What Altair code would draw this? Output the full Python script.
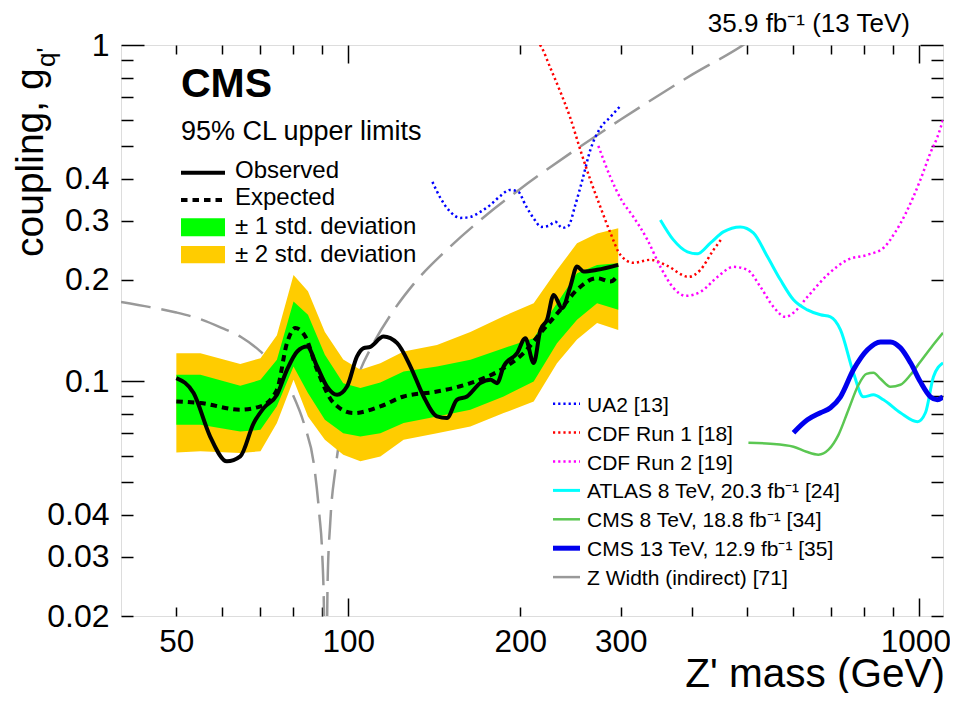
import altair as alt
import pandas as pd

# ---------------- data ----------------
band_mass = [50.0, 55.1, 64.7, 70.2, 75.0, 80.2, 85.0, 91.0, 98.0, 105.0, 113.8,
             125.0, 143.0, 163.6, 187.1, 211.2, 232.0, 251.5, 272.7, 297.0]
band2_hi = [0.121, 0.121, 0.1125, 0.117, 0.137, 0.207, 0.185, 0.140, 0.116, 0.108, 0.113,
            0.1225, 0.128, 0.140, 0.156, 0.1705, 0.214, 0.257, 0.275, 0.285]
band2_lo = [0.0613, 0.0618, 0.0611, 0.0618, 0.075, 0.101, 0.0785, 0.0669, 0.0604, 0.0577, 0.0597,
            0.0669, 0.0700, 0.0733, 0.0803, 0.087, 0.113, 0.133, 0.149, 0.142]
band1_hi = [0.1044, 0.1044, 0.0968, 0.1009, 0.1157, 0.1724, 0.1575, 0.1198, 0.0986, 0.0953, 0.099,
            0.1068, 0.1105, 0.1157, 0.1253, 0.1342, 0.1705, 0.2095, 0.2217, 0.2243]
band1_lo = [0.0742, 0.0742, 0.0708, 0.0716, 0.0841, 0.1105, 0.0921, 0.0767, 0.0700, 0.0684, 0.0700,
            0.0750, 0.0785, 0.0822, 0.0900, 0.0997, 0.1297, 0.1522, 0.1705, 0.1629]

exp_mass = [50.0, 55.1, 64.7, 70.2, 75.0, 78.1, 80.8, 84.1, 88.2, 94.3, 102.2, 113.8, 125.0,
            143.0, 163.6, 187.1, 202.8, 217.0, 235.1, 251.5, 272.7, 287.7, 297.0]
exp_val = [0.087, 0.086, 0.0822, 0.0841, 0.0942, 0.1297, 0.1438, 0.1357, 0.108, 0.086, 0.0803,
           0.0841, 0.090, 0.0931, 0.0986, 0.1093, 0.1211, 0.1389, 0.1629, 0.1868, 0.2024, 0.1977, 0.2071]

obs_mass = [50.0, 53.6, 57.3, 61.3, 64.7, 68.3, 71.1, 75.0, 78.1, 81.4, 84.7, 88.2, 91.8, 95.6,
            99.5, 103.6, 106.4, 109.3, 115.3, 121.8, 128.5, 135.5, 143.0, 148.9, 155.0, 161.4,
            170.3, 177.4, 182.2, 187.1, 197.5, 204.2, 211.2, 217.0, 222.9, 228.9, 236.8, 244.8,
            251.5, 258.3, 272.7, 297.0]
obs_val = [0.1021, 0.0921, 0.0684, 0.0577, 0.0597, 0.075, 0.0831, 0.091, 0.108, 0.1225, 0.1267,
           0.1105, 0.0963, 0.091, 0.0963, 0.1184, 0.1253, 0.1265, 0.1357, 0.1297, 0.1105, 0.090,
           0.0785, 0.0776, 0.088, 0.090, 0.0986, 0.1009, 0.0986, 0.1105, 0.1211, 0.1342, 0.1131,
           0.1421, 0.1522, 0.1805, 0.1648, 0.1911, 0.2192, 0.2118, 0.2143, 0.2217]

ua2_mass = [140.4, 145.0, 150.9, 157.2, 163.6, 170.3, 177.4, 184.6, 192.2, 198.6, 204.2, 210.9,
            217.9, 224.1, 230.5, 237.1, 242.9, 249.8, 257.0, 265.4, 276.3, 287.7, 300.7]
ua2_val = [0.3915, 0.3508, 0.3187, 0.3059, 0.3080, 0.3187, 0.3344, 0.3556, 0.3706, 0.3655, 0.3344,
           0.3059, 0.2876, 0.2896, 0.2977, 0.2856, 0.2896, 0.3344, 0.3969, 0.4874, 0.5665, 0.6107, 0.6632]

cdf1_mass = [214.0, 217.9, 225.9, 235.2, 244.8, 254.9, 265.4, 276.3, 287.7, 299.5, 315.7, 338.1,
             362.0, 394.1, 413.6, 436.0, 452.0]
cdf1_val = [1.03, 0.986, 0.854, 0.725, 0.6067, 0.4874, 0.3969, 0.3299, 0.2761, 0.2375, 0.2248,
            0.2295, 0.2202, 0.2042, 0.2142, 0.2457, 0.2668]

cdf2_mass = [274.1, 287.7, 300.8, 315.7, 334.1, 352.0, 371.0, 389.4, 413.6, 443.2, 472.5, 500.0,
             526.9, 555.2, 582.8, 602.0, 636.8, 690.4, 748.4, 811.2, 865.2, 908.0, 945.6, 1004.0,
             1045.6, 1075.6, 1100.0]
cdf2_val = [0.5009, 0.4050, 0.3459, 0.3080, 0.2631, 0.2187, 0.1894, 0.1793, 0.1842, 0.2042, 0.2187,
            0.2142, 0.1907, 0.1663, 0.1553, 0.1597, 0.1780, 0.2071, 0.2295, 0.2375, 0.2490, 0.2780,
            0.3144, 0.3969, 0.4775, 0.5327, 0.5984]

atlas_mass = [352.0, 371.0, 392.5, 408.6, 430.8, 453.7, 486.0, 512.1, 542.1, 571.1, 602.0, 636.8,
              671.2, 698.8, 727.6, 766.5, 798.0, 831.0, 865.2, 926.5, 992.4, 1024.8, 1058.5, 1100.0]
atlas_val = [0.3017, 0.2631, 0.2424, 0.2391, 0.2577, 0.2780, 0.2876, 0.2761, 0.2343, 0.2001, 0.1745,
             0.1629, 0.1575, 0.1553, 0.1421, 0.1059, 0.0898, 0.0910, 0.0880, 0.0805, 0.0757, 0.0805,
             0.1030, 0.1133]

cms8_mass = [502.0, 548.5, 602.0, 634.4, 665.7, 693.3, 721.7, 751.4, 782.4, 807.9, 831.0, 854.9,
             890.0, 926.5, 965.0, 1004.0, 1054.5, 1100.0]
cms8_val = [0.0655, 0.0651, 0.0638, 0.0616, 0.0604, 0.0625, 0.0692, 0.0822, 0.0975, 0.1051, 0.1059,
            0.1016, 0.0962, 0.0975, 0.1044, 0.1141, 0.1274, 0.1392]

cms13_mass = [602.0, 636.8, 671.2, 698.8, 727.6, 766.5, 811.2, 854.9, 890.0, 926.5, 965.0, 1004.0,
              1045.6, 1075.6, 1100.0]
cms13_val = [0.0702, 0.0767, 0.0805, 0.0833, 0.0898, 0.1080, 0.1239, 0.1308, 0.1308, 0.1256, 0.1133,
             0.0995, 0.0898, 0.0880, 0.0898]

zw_mass = [40, 45, 50, 55, 60, 65, 70, 75, 80, 84, 87, 89, 90, 90.7, 91.0,
           91.5, 92, 93, 95, 100, 105, 110, 120, 130, 150, 175, 200, 250, 300, 400, 500, 520]
zw_val = [0.172, 0.166, 0.160, 0.153, 0.144, 0.135, 0.123, 0.109, 0.091, 0.073, 0.057, 0.040, 0.031,
          0.020, 0.012, 0.012, 0.025, 0.038, 0.055, 0.085, 0.108, 0.127, 0.162, 0.194, 0.249, 0.313,
          0.373, 0.488, 0.60, 0.816, 1.02, 1.07]

x_minor = [50, 60, 70, 80, 90, 200, 300, 400, 500, 600, 700, 800, 900]
x_major = [100, 1000]
x_labels = [50, 100, 200, 300, 1000]
y_minor = [0.02, 0.03, 0.04, 0.05, 0.06, 0.07, 0.08, 0.09, 0.2, 0.3, 0.4, 0.5, 0.6, 0.7, 0.8, 0.9]
y_major = [0.1, 1]
y_labels = [0.02, 0.03, 0.04, 0.1, 0.2, 0.3, 0.4, 1]

# ---------------- layout ----------------
W, H = 822, 571
FONT = "Liberation Sans"

xs = alt.Scale(type="log", domain=[40, 1100], nice=False)
ys = alt.Scale(type="log", domain=[0.02, 1], nice=False)


def tick_axis(orient, offset, values, size):
    return alt.Axis(orient=orient, offset=offset, values=values, tickSize=size, labels=False,
                    domain=False, grid=False, title=None, tickColor="black", tickWidth=1.5)


ax_x_lab = alt.Axis(orient="bottom", values=x_labels, format="~g", ticks=False, domain=False,
                    grid=False, title=None, labelFont=FONT, labelFontSize=31.5, labelColor="black",
                    labelPadding=10, labelFlush=False, labelOverlap=False,
                    labelOffset={"condition": {"test": "datum.value >= 1000", "value": -4},
                                 "value": 0})
ax_y_lab = alt.Axis(orient="left", values=y_labels, format="~g", ticks=False, domain=False,
                    grid=False, title=None, labelFont=FONT, labelFontSize=32, labelColor="black",
                    labelPadding=12, labelOverlap=False, labelBaseline="middle")


def series(mass, val):
    return pd.DataFrame({"m": mass, "g": val})


def line(df, color, width, dash=None, xaxis=None, yaxis=None):
    kw = dict(color=color, strokeWidth=width, clip=True, interpolate="monotone")
    if dash:
        kw["strokeDash"] = dash
    return alt.Chart(df).mark_line(**kw).encode(
        x=alt.X("m:Q", scale=xs, axis=xaxis),
        y=alt.Y("g:Q", scale=ys, axis=yaxis),
    )


band_df = pd.DataFrame({"m": band_mass, "lo2": band2_lo, "hi2": band2_hi,
                        "lo1": band1_lo, "hi1": band1_hi})

zw = line(series(zw_mass, zw_val), "#999999", 2.5, [30, 11], ax_x_lab, ax_y_lab)

band2 = alt.Chart(band_df).mark_area(color="#FFCC00", opacity=1, interpolate="linear").encode(
    x=alt.X("m:Q", scale=xs, axis=tick_axis("top", -H, x_minor, 9)),
    y=alt.Y("lo2:Q", scale=ys, axis=tick_axis("right", -W, y_minor, 12)),
    y2="hi2:Q",
)
band1 = alt.Chart(band_df).mark_area(color="#00FF00", opacity=1, interpolate="linear").encode(
    x=alt.X("m:Q", scale=xs, axis=tick_axis("top", -H, x_major, 18)),
    y=alt.Y("lo1:Q", scale=ys, axis=tick_axis("right", -W, y_major, 23)),
    y2="hi1:Q",
)

ua2 = line(series(ua2_mass, ua2_val), "#0000FF", 2.5, [2.2, 3],
           tick_axis("bottom", -H, x_minor, 9), tick_axis("left", -W, y_minor, 12))
cdf1 = line(series(cdf1_mass, cdf1_val), "#FF0000", 2.5, [2.2, 3],
            tick_axis("bottom", -H, x_major, 18), tick_axis("left", -W, y_major, 23))
cdf2 = line(series(cdf2_mass, cdf2_val), "#FF00FF", 2.5, [2.2, 3])
atlas = line(series(atlas_mass, atlas_val), "#00FFFF", 3)
cms8 = line(series(cms8_mass, cms8_val), "#5BC752", 2.5)
cms13 = line(series(cms13_mass, cms13_val), "#0000EE", 5)
expd = line(series(exp_mass, exp_val), "black", 4, [6.5, 5])
obs = line(series(obs_mass, obs_val), "black", 4)

one = pd.DataFrame({"k": [0]})
OX, OY = 121, 45  # page position of plot origin


def txt(s, px, py, size, weight="normal", align="left", angle=0):
    kw = dict(text=s, font=FONT, fontSize=size, fontWeight=weight, align=align,
              baseline="alphabetic", color="black")
    if angle:
        kw["angle"] = angle
    return alt.Chart(one).mark_text(**kw).encode(x=alt.value(px - OX), y=alt.value(py - OY))


def hline(x1, x2, py, color, width, dash=None):
    kw = dict(color=color, strokeWidth=width)
    if dash:
        kw["strokeDash"] = dash
    return alt.Chart(one).mark_rule(**kw).encode(
        x=alt.value(x1 - OX), x2=alt.value(x2 - OX), y=alt.value(py - OY))


def box(x1, x2, y1, y2, color):
    return alt.Chart(one).mark_rect(color=color).encode(
        x=alt.value(x1 - OX), x2=alt.value(x2 - OX), y=alt.value(y1 - OY), y2=alt.value(y2 - OY))


annots = [
    txt("CMS", 181, 96.7, 41, "bold"),
    txt("95% CL upper limits", 181, 140, 27),
    hline(181, 225, 172.7, "black", 4),
    txt("Observed", 235, 178.3, 24),
    hline(181, 225, 200, "black", 4, [6.5, 5]),
    txt("Expected", 235, 205, 24),
    box(181, 225, 218.3, 236.3, "#00FF00"),
    txt("± 1 std. deviation", 235, 234, 24),
    box(181, 225, 246, 263.3, "#FFCC00"),
    txt("± 2 std. deviation", 235, 261.7, 24),
]

leg = [
    ("UA2 [13]", "#0000FF", 2.5, [2.2, 3]),
    ("CDF Run 1 [18]", "#FF0000", 2.5, [2.2, 3]),
    ("CDF Run 2 [19]", "#FF00FF", 2.5, [2.2, 3]),
    ("ATLAS 8 TeV, 20.3 fb⁻¹ [24]", "#00FFFF", 3, None),
    ("CMS 8 TeV, 18.8 fb⁻¹ [34]", "#5BC752", 2.5, None),
    ("CMS 13 TeV, 12.9 fb⁻¹ [35]", "#0000EE", 5, None),
    ("Z Width (indirect) [71]", "#999999", 2.5, None),
]
for i, (lab, col, wd, ds) in enumerate(leg):
    base = 411.7 + i * 28.9
    annots.append(hline(553, 580, base - 8, col, wd, ds))
    annots.append(txt(lab, 587, base, 21))

annots += [
    txt("35.9 fb⁻¹ (13 TeV)", 910, 32, 26, align="right"),
    txt("Z' mass (GeV)", 945, 687, 40.5, align="right"),
    txt("coupling, g", 43, 257, 39, angle=270),
    txt("q'", 55, 67, 26, angle=270),
]

chart = alt.layer(zw, band2, band1, ua2, cdf1, cdf2, atlas, cms8, cms13, expd, obs, *annots)
chart = chart.resolve_axis(x="independent", y="independent").properties(
    width=W, height=H, autosize="none",
    padding={"left": 113, "top": 37, "right": 7, "bottom": 77},
).configure_view(stroke="black", strokeWidth=2).configure(background="white")

chart.save("out.html", embed_options={"renderer": "svg", "actions": False})
